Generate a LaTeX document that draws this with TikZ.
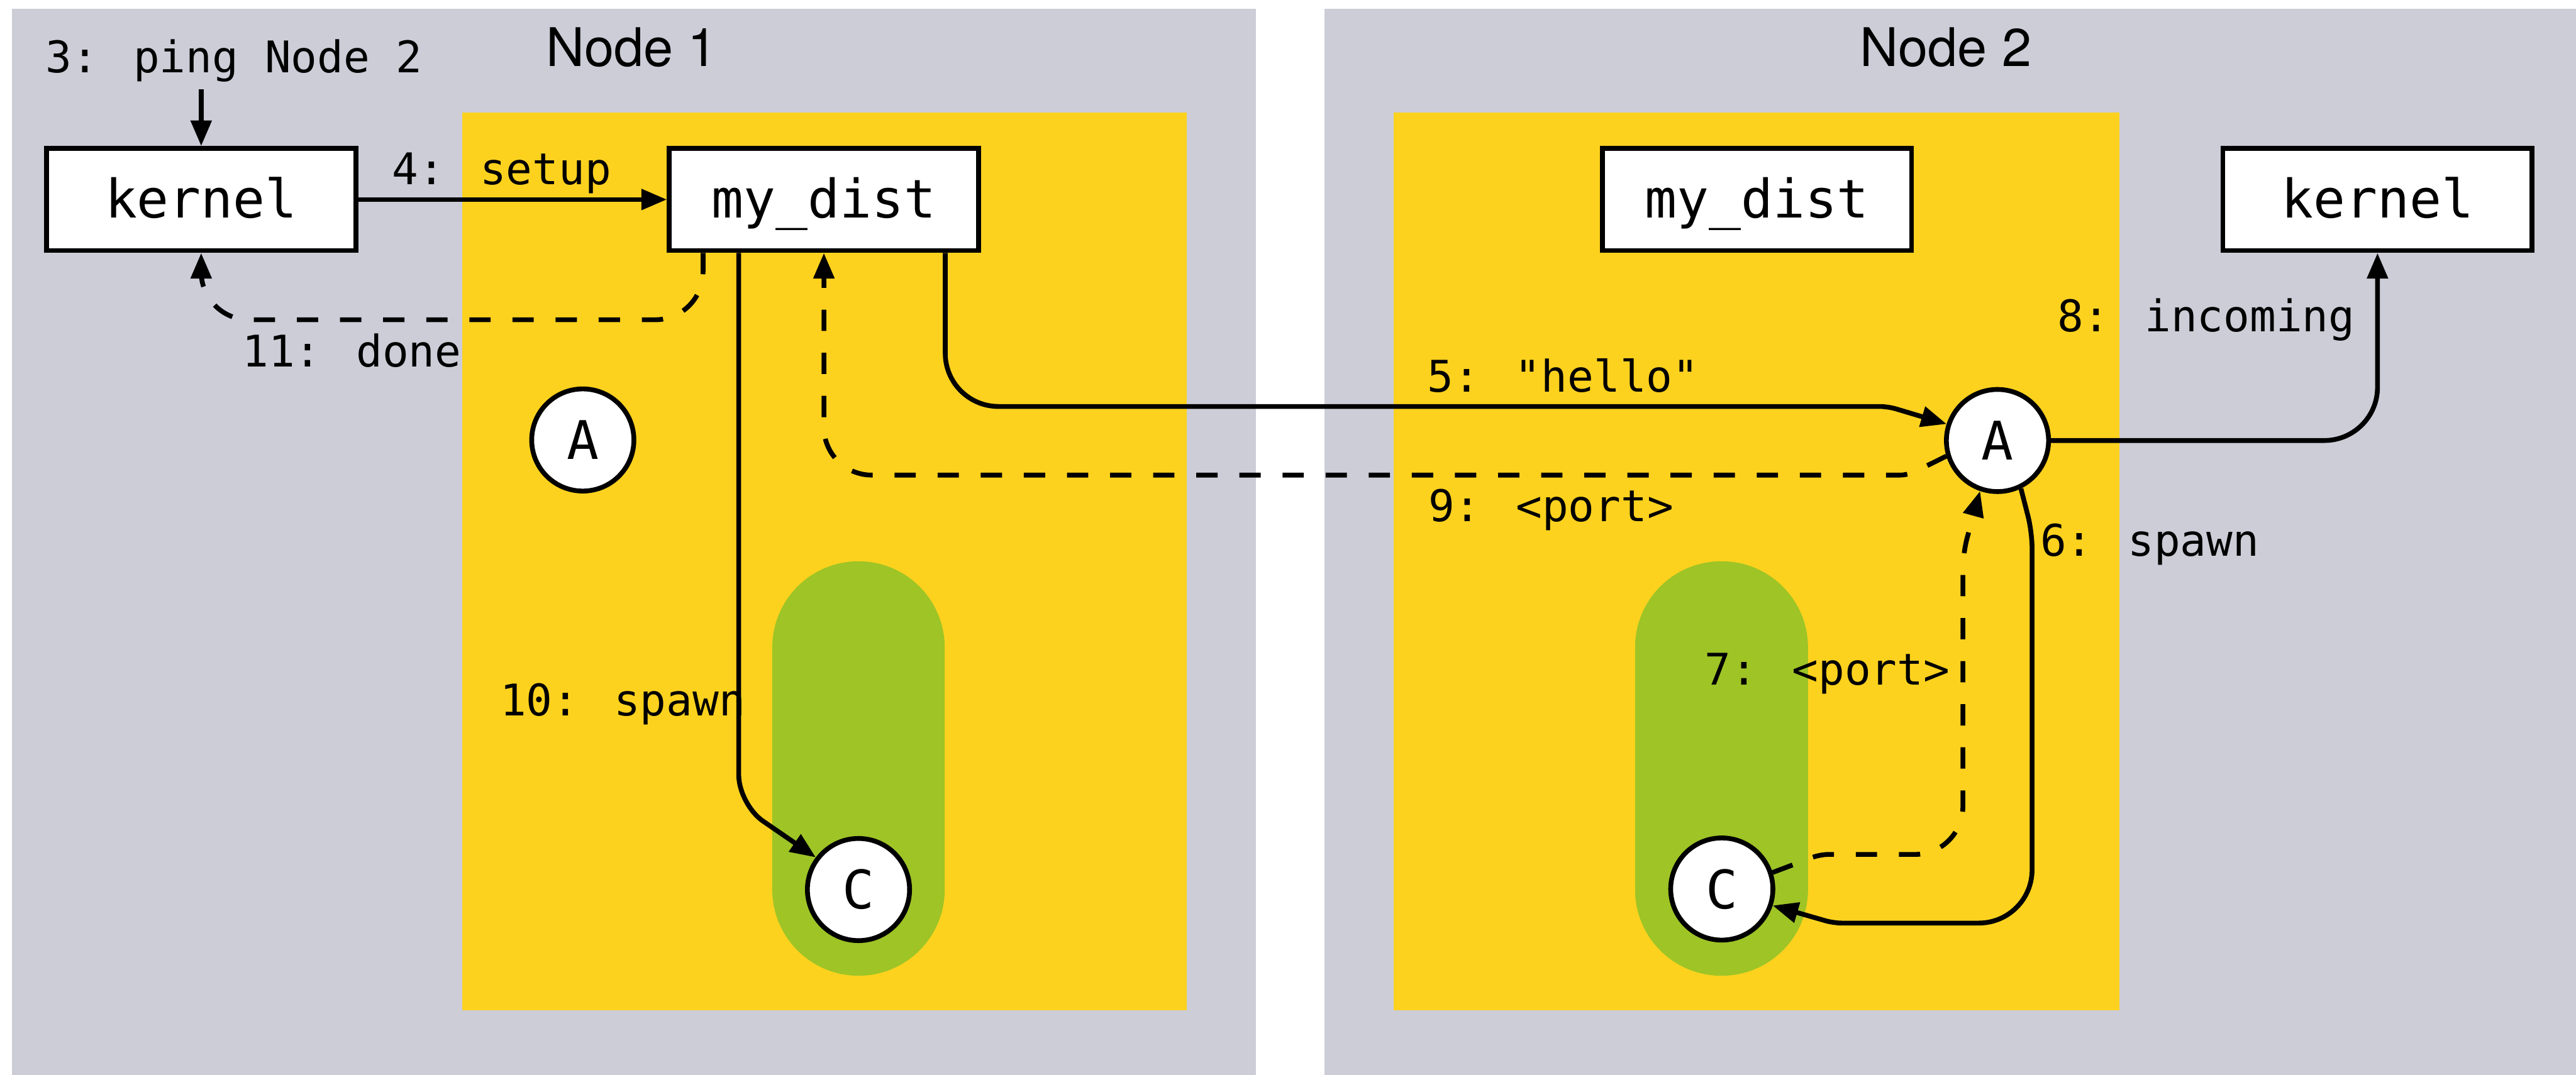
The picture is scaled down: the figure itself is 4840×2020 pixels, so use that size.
\documentclass[tikz,border=0pt]{standalone}
\usepackage{fontspec}
\newfontfamily\codefont{DejaVu Sans Mono}
\newfontfamily\headfont{TeX Gyre Heros}
\usetikzlibrary{arrows.meta}
\definecolor{panelgray}{RGB}{204,205,215}
\definecolor{zoneyellow}{RGB}{253,210,30}
\definecolor{pillgreen}{RGB}{158,196,38}

\begin{document}
\begin{tikzpicture}[x=1pt, y=-1pt,
  boxnode/.style={draw, line width=9pt, fill=white, minimum width=581pt,
    minimum height=192pt, inner sep=0pt, text height=76pt, text depth=8pt,
    font=\codefont\fontsize{100pt}{120pt}\selectfont},
  procnode/.style={circle, draw, line width=9pt, fill=white, minimum size=192pt,
    inner sep=0pt, text height=73pt, text depth=0pt,
    font=\codefont\fontsize{100pt}{120pt}\selectfont},
  title/.style={anchor=base, inner sep=0pt, font=\headfont\fontsize{100pt}{120pt}\selectfont},
  lbl/.style={anchor=base, inner sep=0pt, font=\codefont\fontsize{82pt}{98pt}\selectfont},
  msg/.style={line width=9pt, -{Triangle[length=48pt,width=38pt]}},
  reply/.style={msg, dash pattern=on 40pt off 41pt}
]
\useasboundingbox (0,0) rectangle (4840,2020);

% host panels
\fill[panelgray] (23,17) rectangle (2360,2020);
\fill[panelgray] (2488,17) rectangle (4840,2020);
% runtime zones
\fill[zoneyellow] (868,212) rectangle (2230,1899);
\fill[zoneyellow] (2618,212) rectangle (3982,1899);
% spawned process lanes
\fill[pillgreen, rounded corners=162pt] (1451,1055) rectangle (1775,1834);
\fill[pillgreen, rounded corners=162pt] (3072,1055) rectangle (3397,1834);

% headings
\node[title] (head1) at (1187,125) {Node 1};
\node[title] (head2) at (3656,125) {Node 2};

% components
\node[boxnode] (kernel1) at (378,375) {kernel};
\node[boxnode] (dist1) at (1548,375) {my\_dist};
\node[boxnode] (dist2) at (3301,375) {my\_dist};
\node[boxnode] (kernel2) at (4467,375) {kernel};
\node[procnode] (A1) at (1095,827) {A};
\node[procnode] (A2) at (3753,828) {A};
\node[procnode] (C1) at (1613,1672) {C};
\node[procnode] (C2) at (3235,1671) {C};

% (corner radius is set before the segment that ends at that corner)

% 3: ping
\coordinate (pingsrc) at (378,168);
\draw[msg] (pingsrc) -- (kernel1.north);
\node[lbl] (l3) at (440,137) {3: ping Node 2};

% 4: setup
\draw[msg] (kernel1.east) -- (dist1.west);
\node[lbl] (l4) at (943,347) {4: setup};

% 5: "hello"
\draw[msg] ([xshift=228pt]dist1.south) [rounded corners=100pt] -- (1776,764)
  [rounded corners=15pt] -- (3547,764) -- (A2.162);
\node[lbl] (l5) at (2937,737) {5: "hello"};

% 6: spawn
\draw[msg] (A2.-64) [rounded corners=30pt] -- (3818,1000)
  [rounded corners=100pt] -- (3818,1735) [rounded corners=15pt] -- (3445,1735) -- (C2.-18);
\node[lbl] (l6) at (4039,1045) {6: spawn};

% 7: <port>
\draw[reply] (C2.18) [rounded corners=15pt] -- (3420,1606) [rounded corners=90pt] -- (3688,1606)
  [rounded corners=30pt] -- (3688,1040) -- (A2.-109);
\node[lbl] (l7) at (3433,1287) {7: <port>};

% 8: incoming
\draw[msg] (A2.east) [rounded corners=100pt] -| (kernel2.south);
\node[lbl] (l8) at (4145,623) {8: incoming};

% 9: <port>
\draw[reply] (A2.197) [rounded corners=15pt] -- (3585,893) [rounded corners=90pt] -- (1548,893)
  -- (dist1.south);
\node[lbl] (l9) at (2914,980) {9: <port>};

% 10: spawn
\draw[msg] ([xshift=-160pt]dist1.south) [rounded corners=55pt] -- (1388,1512) -- (C1.143);
\node[lbl] (l10) at (1170,1345) {10: spawn};

% 11: done
\draw[reply] ([xshift=-227pt]dist1.south) [rounded corners=90pt] -- (1321,601) -| (kernel1.south);
\node[lbl] (l11) at (661,689) {11: done};
\end{tikzpicture}
\end{document}
